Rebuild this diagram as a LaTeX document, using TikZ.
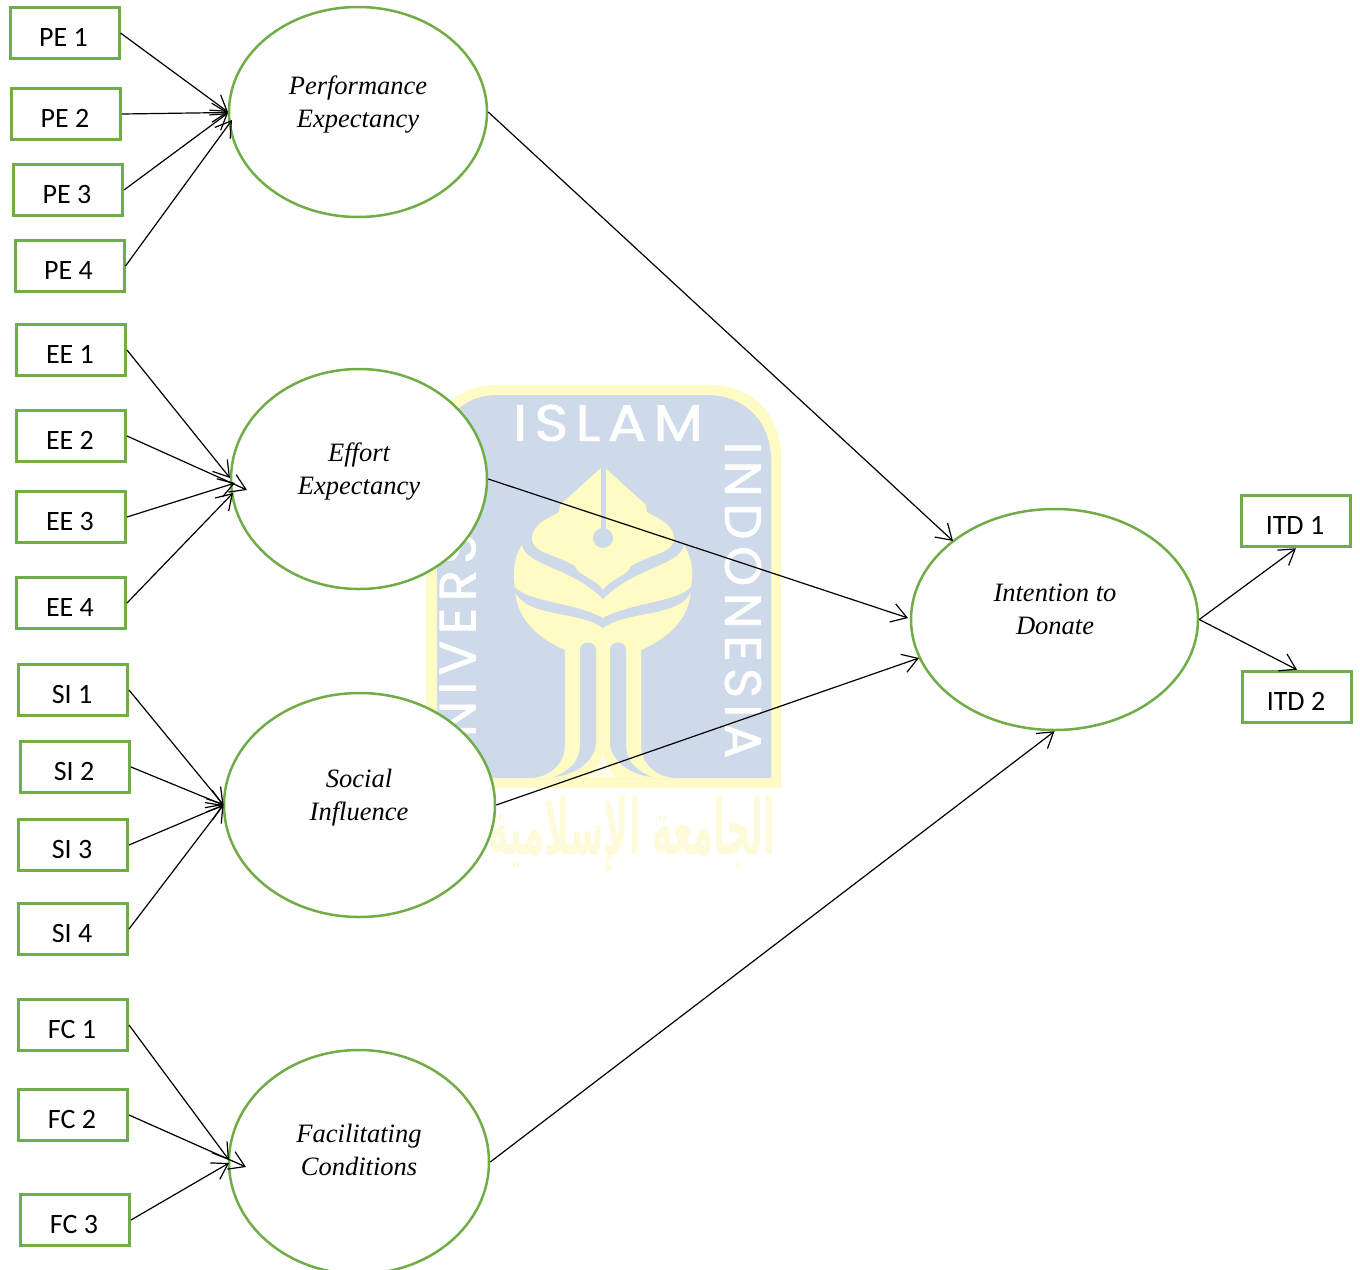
\documentclass[tikz,border=0pt]{standalone}
\usepackage{fontspec}
\usetikzlibrary{arrows.meta,shapes.geometric}
\TeXXeTstate=1
\setmainfont{Carlito}
\newfontfamily\latinfont{Liberation Serif}
\newfontfamily\wmfont[LetterSpace=13,FakeBold=1.5]{Poppins}
\newfontfamily\arabicfont[Script=Arabic]{DejaVu Sans}
\definecolor{grn}{HTML}{70AD47}
\definecolor{wmy}{HTML}{FFFBC4}
\definecolor{wmb}{HTML}{CEDAEA}
\definecolor{wmc}{HTML}{FEFBDA}
\tikzset{
  x=1pt,y=-1pt,
  bx/.style={draw=grn,line width=3pt,fill=white,minimum width=109pt,minimum height=51.5pt,inner sep=0pt,font=\fontsize{28}{30}\selectfont},
  lat/.style={draw=grn,line width=2.5pt,fill=white,ellipse,inner sep=0pt},
  lab/.style={align=center,inner sep=0pt,font=\latinfont\itshape\fontsize{26.5}{33}\selectfont},
  arr/.style={-{Straight Barb[length=15pt,width=19pt,line width=1.2pt]},line width=1.2pt,black},
  wmtext/.style={text=white,inner sep=0pt,font=\wmfont\fontsize{51}{51}\selectfont}
}
\newcommand{\bxt}[1]{\hspace*{-2pt}\raisebox{-13.5pt}[0pt][0pt]{#1}}
\begin{document}
\begin{tikzpicture}
\clip (0,0) rectangle (1360,1269);
% watermark badge
\path[fill=wmy] (426,788) -- (426,456) .. controls (426,415) and (455,385) .. (497,385) -- (710,385) .. controls (752,385) and (781,415) .. (781,456) -- (781,788) -- cycle;
\path[fill=wmb] (437,778) -- (437,458) .. controls (437,422) and (462,395) .. (497,395) -- (707,395) .. controls (745,395) and (771,422) .. (771,460) -- (771,778) -- cycle;
% emblem: silhouette
\foreach \s in {1,-1}{
\begin{scope}[shift={(603,0)},xscale=\s]
\path[fill=wmy] (1,545) -- (-81,545) .. controls (-90,560) and (-90,570) .. (-88,590) .. controls (-86,620) and (-65,638) .. (-38,650) -- (-38,745) .. controls (-38,765) and (-55,778) .. (-73,778) -- (1,778) -- cycle;
\end{scope}}
\foreach \s in {1,-1}{
\begin{scope}[shift={(603,0)},xscale=\s]
\path[fill=wmb] (-81,530) -- (-81,545) .. controls (-78,565) and (-30,568) .. (0,599) -- (0,530) -- cycle;
\path[fill=wmb] (-88,587) .. controls (-75,602) and (-30,602) .. (0,618) -- (0,628) .. controls (-25,610) and (-75,618) .. (-88,592) -- cycle;
\path[fill=wmb] (-23,650) .. controls (-23,640) and (-7,640) .. (-7,650) -- (-7,745) .. controls (-10,762) and (-28,775) .. (-49,777) .. controls (-32,770) and (-23,760) .. (-23,745) -- cycle;
\end{scope}}
\foreach \s in {1,-1}{
\begin{scope}[shift={(603,0)},xscale=\s]
\path[fill=wmy] (1,466) -- (0,466) -- (-43,505) -- (-44,512) -- (-51,516) .. controls (-64,522) and (-71,530) .. (-71,538) .. controls (-71,553) and (-50,553) .. (-28,566) .. controls (-25,575) and (-10,578) .. (0,589) -- (1,589) -- cycle;
\path[fill=white,opacity=.6] (0,752) .. controls (-3,762) and (-6,770) .. (-14,778) -- (0,778) -- cycle;
\end{scope}}
\path[fill=wmb] (600.5,466) rectangle (605.5,530);
\path[fill=wmb] (603,538) circle[radius=10pt];
\node[wmtext,anchor=center,xscale=1.12] (wmislam) at (608,423) {ISLAM};
\node[wmtext,anchor=center,rotate=-90] (wmindo) at (743,600) {INDONESIA};
\node[wmtext,anchor=mid west,rotate=90] (wmuni) at (473,737) {NIVERSI};
\node[inner sep=0pt,text=wmc,xscale=.68,yscale=1.55,font=\arabicfont\bfseries\fontsize{50}{50}\selectfont] (wmar) at (632,835) {\beginR الجامعة الإسلامية\endR};
% latent ellipses
\node[lat,minimum width=258pt,minimum height=210pt] (pe) at (358,112) {};
\node[lat,minimum width=256pt,minimum height=220pt] (ee) at (359,479) {};
\node[lat,minimum width=271pt,minimum height=224pt] (si) at (359.5,805) {};
\node[lat,minimum width=260pt,minimum height=224pt] (fc) at (359,1162) {};
\node[lat,minimum width=287pt,minimum height=221pt] (itd) at (1054.5,619.5) {};
\node[lab] (pet) at (358,105) {Performance\\Expectancy};
\node[lab] (eet) at (359,471.5) {Effort\\Expectancy};
\node[lab] (sit) at (359,797.5) {Social\\Influence};
\node[lab] (fct) at (359,1150) {Facilitating\\Conditions};
\node[lab] (itdt) at (1055,609.5) {Intention to\\Donate};
% indicator boxes
\node[bx] (pe1) at (64.5,33) {\bxt{PE 1}};
\node[bx] (pe2) at (66,114) {\bxt{PE 2}};
\node[bx] (pe3) at (68,190) {\bxt{PE 3}};
\node[bx] (pe4) at (69.5,266) {\bxt{PE 4}};
\node[bx] (ee1) at (71,350) {\bxt{EE 1}};
\node[bx] (ee2) at (71,436) {\bxt{EE 2}};
\node[bx] (ee3) at (71,517) {\bxt{EE 3}};
\node[bx] (ee4) at (71,603) {\bxt{EE 4}};
\node[bx] (si1) at (73,690) {\bxt{SI 1}};
\node[bx] (si2) at (75,767) {\bxt{SI 2}};
\node[bx] (si3) at (73,845) {\bxt{SI 3}};
\node[bx] (si4) at (73,929) {\bxt{SI 4}};
\node[bx] (fc1) at (73,1025) {\bxt{FC 1}};
\node[bx] (fc2) at (73,1115) {\bxt{FC 2}};
\node[bx] (fc3) at (75,1220) {\bxt{FC 3}};
\node[bx] (itd1) at (1296,521) {\bxt{ITD 1}};
\node[bx] (itd2) at (1297,697) {\bxt{ITD 2}};
% arrow targets
\coordinate (tpe1) at (228,112);
\coordinate (tpe2) at (228,112.5);
\coordinate (tpe3) at (228,113);
\coordinate (tpe4) at (232,120);
\coordinate (tee1) at (230,478);
\coordinate (tee2) at (247,490);
\coordinate (tee3) at (235,483);
\coordinate (tee4) at (233,493);
\coordinate (tsi1) at (223.5,805);
\coordinate (tsi2) at (223.5,805);
\coordinate (tsi3) at (223.5,805);
\coordinate (tsi4) at (223.5,805);
\coordinate (tfc1) at (229,1160);
\coordinate (tfc2) at (246,1167);
\coordinate (tfc3) at (229,1163);
\coordinate (ti1) at (953,541);
\coordinate (ti2) at (908,618);
\coordinate (ti3) at (919,658);
% connectors
\foreach \a/\b in {pe1/tpe1,pe2/tpe2,pe3/tpe3,pe4/tpe4,ee1/tee1,ee2/tee2,ee3/tee3,ee4/tee4,si1/tsi1,si2/tsi2,si3/tsi3,si4/tsi4,fc1/tfc1,fc2/tfc2,fc3/tfc3,pe/ti1,ee/ti2,si/ti3}
  \draw[arr] (\a.east) -- (\b);
\draw[arr] (fc.east) -- (itd.south);
\draw[arr] (itd.east) -- (itd1.south);
\draw[arr] (itd.east) -- (itd2.north);
\end{tikzpicture}
\end{document}
